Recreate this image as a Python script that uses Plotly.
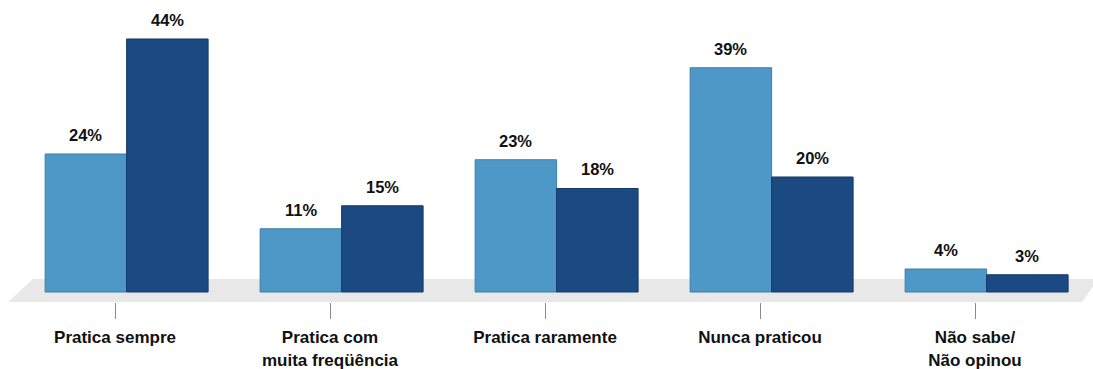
import plotly.graph_objects as go

# Survey answers and the two series of percentages
categories = ["Pratica sempre", "Pratica com<br>muita freqüência", "Pratica raramente",
              "Nunca praticou", "Não sabe/<br>Não opinou"]
serie_a = [24, 11, 23, 39, 4]
serie_b = [44, 15, 18, 20, 3]

COLOR_A = "#4E98C7"
COLOR_B = "#1B4982"
FONT = "Liberation Sans, Arial, sans-serif"

W, H = 1093, 369
BAR_W = 0.379
SHIFT = 0.054  # groups sit slightly right of their tick marks

xs = list(range(len(categories)))
tick_text = ["<b>" + c.replace("<br>", "</b><br><b>") + "</b>" for c in categories]

fig = go.Figure()
fig.add_trace(go.Bar(
    x=xs, y=serie_a, width=BAR_W, offset=-BAR_W + SHIFT,
    marker=dict(color=COLOR_A, line=dict(color="#3F7EA8", width=1)),
    hoverinfo="skip", showlegend=False,
))
fig.add_trace(go.Bar(
    x=xs, y=serie_b, width=BAR_W, offset=SHIFT,
    marker=dict(color=COLOR_B, line=dict(color="#153A68", width=1)),
    hoverinfo="skip", showlegend=False,
))

# value labels above each bar
for x, a, b in zip(xs, serie_a, serie_b):
    for val, cx in ((a, x - BAR_W / 2 + SHIFT), (b, x + BAR_W / 2 + SHIFT)):
        fig.add_annotation(
            x=cx, y=val, text=f"<b>{val}%</b>", showarrow=False,
            xanchor="center", yanchor="bottom", yshift=8,
            font=dict(family=FONT, size=16.5, color="#111111"),
        )

# grey floor under the bars
def px(xp):
    return xp / W

def py(yp):
    return (302 - yp) / 302

fig.add_shape(
    type="path", xref="paper", yref="paper", layer="below",
    path=(f"M {px(8)} {py(302)} L {px(33)} {py(279)} L {px(1098)} {py(279)} "
          f"L {px(1082)} {py(302)} Z"),
    fillcolor="#E8E8E8", line=dict(width=0),
)

fig.update_layout(
    width=W, height=H,
    margin=dict(l=0, r=0, t=0, b=67),
    paper_bgcolor="white", plot_bgcolor="rgba(0,0,0,0)",
    barmode="overlay",
    xaxis=dict(
        range=[-0.5349, 4.5488], tickmode="array", tickvals=xs, ticktext=tick_text,
        ticks="outside", ticklen=16, tickcolor="#8A8A8A", tickwidth=1,
        ticklabelstandoff=4,
        showgrid=False, zeroline=False, showline=False,
        tickfont=dict(family=FONT, size=17, color="#111111"),
    ),
    yaxis=dict(range=[-1.739, 50.78], visible=False, showgrid=False, zeroline=False),
    font=dict(family=FONT),
)

fig.write_html("out.html")
